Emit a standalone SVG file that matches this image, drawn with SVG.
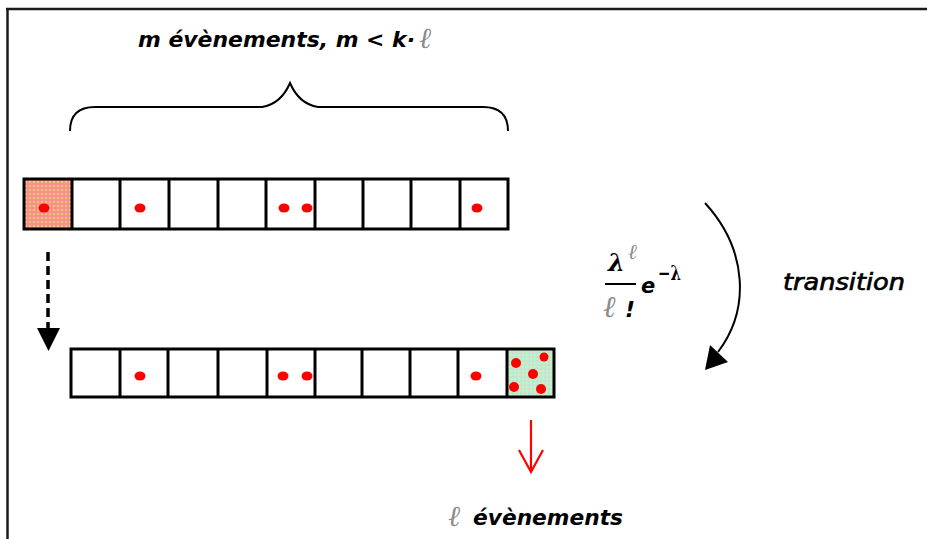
<svg xmlns="http://www.w3.org/2000/svg" width="927" height="539" viewBox="0 0 927 539">
<style>
.cell{fill:none;stroke:#000;stroke-width:3}
.div{stroke:#000;stroke-width:3}
.dot{fill:#f00}
.t{font-family:"DejaVu Sans",sans-serif;font-style:oblique;font-weight:bold;fill:#000}
.ell{font-family:"DejaVu Serif",serif;font-style:italic;fill:#8a8a8a}
.ln{fill:none;stroke:#000;stroke-width:2}
</style>
<defs>
<pattern id="pk" width="4" height="4" patternUnits="userSpaceOnUse">
<rect width="4" height="4" fill="#f5938a"/>
<rect x="1" y="1" width="2" height="2" fill="#f6c27c"/>
</pattern>
<pattern id="gr" width="4" height="4" patternUnits="userSpaceOnUse">
<rect width="4" height="4" fill="#b6f3c4"/>
<rect x="0" y="0" width="2" height="2" fill="#d9d3dc"/>
<rect x="2" y="2" width="2" height="2" fill="#c8efc8"/>
</pattern>
</defs>
<rect width="927" height="539" fill="#fff"/>
<g id="frame">
<line x1="6" y1="9" x2="927" y2="9" stroke="#1a1a1a" stroke-width="2.5"/>
<line x1="7.5" y1="8" x2="7.5" y2="539" stroke="#1a1a1a" stroke-width="2.5"/>
</g>
<g id="title">
<text class="t" x="138" y="47" font-size="22" textLength="277" lengthAdjust="spacingAndGlyphs">m évènements, m &lt; k·</text>
<text class="ell" x="419" y="48" font-size="29">ℓ</text>
</g>
<g id="brace">
<path class="ln" d="M70,131 Q70,107 95,107 L262,107 Q281,104 290,83 Q299,104 318,107 L483,107 Q508,107 508,131"/>
</g>
<g id="row-top">
<rect x="24" y="179" width="48" height="50" fill="url(#pk)"/>
<rect class="cell" x="24" y="179" width="484" height="50"/>
<line class="div" x1="72" y1="179" x2="72" y2="229"/>
<line class="div" x1="120" y1="179" x2="120" y2="229"/>
<line class="div" x1="169" y1="179" x2="169" y2="229"/>
<line class="div" x1="218" y1="179" x2="218" y2="229"/>
<line class="div" x1="266" y1="179" x2="266" y2="229"/>
<line class="div" x1="315" y1="179" x2="315" y2="229"/>
<line class="div" x1="363" y1="179" x2="363" y2="229"/>
<line class="div" x1="411" y1="179" x2="411" y2="229"/>
<line class="div" x1="460" y1="179" x2="460" y2="229"/>
<ellipse class="dot" cx="44" cy="208" rx="5.5" ry="4.5"/>
<ellipse class="dot" cx="140" cy="208" rx="5.5" ry="4.5"/>
<ellipse class="dot" cx="284" cy="208" rx="5.5" ry="4.5"/>
<ellipse class="dot" cx="307" cy="208" rx="5.5" ry="4.5"/>
<ellipse class="dot" cx="477" cy="208" rx="5.5" ry="4.5"/>
</g>
<g id="row-bottom">
<rect x="507" y="349" width="47" height="48" fill="url(#gr)"/>
<rect class="cell" x="71" y="349" width="483" height="48"/>
<line class="div" x1="120" y1="349" x2="120" y2="397"/>
<line class="div" x1="168" y1="349" x2="168" y2="397"/>
<line class="div" x1="218" y1="349" x2="218" y2="397"/>
<line class="div" x1="267" y1="349" x2="267" y2="397"/>
<line class="div" x1="315" y1="349" x2="315" y2="397"/>
<line class="div" x1="362" y1="349" x2="362" y2="397"/>
<line class="div" x1="410" y1="349" x2="410" y2="397"/>
<line class="div" x1="458" y1="349" x2="458" y2="397"/>
<line class="div" x1="507" y1="349" x2="507" y2="397"/>
<ellipse class="dot" cx="140" cy="376" rx="5.5" ry="4.5"/>
<ellipse class="dot" cx="283" cy="376" rx="5.5" ry="4.5"/>
<ellipse class="dot" cx="307" cy="376" rx="5.5" ry="4.5"/>
<ellipse class="dot" cx="476" cy="376" rx="5.5" ry="4.5"/>
<circle class="dot" cx="516" cy="363" r="5"/>
<circle class="dot" cx="544" cy="357" r="4.5"/>
<circle class="dot" cx="533" cy="374" r="5"/>
<circle class="dot" cx="514" cy="387" r="5"/>
<circle class="dot" cx="541" cy="389" r="5"/>
</g>
<g id="formula">
<text x="608" y="271" font-family="DejaVu Serif,serif" font-style="italic" font-weight="bold" font-size="24">λ</text>
<text class="ell" x="628" y="259" font-size="21">ℓ</text>
<line x1="605" y1="284" x2="636" y2="284" stroke="#000" stroke-width="2"/>
<text class="ell" x="603" y="317" font-size="30">ℓ</text>
<text x="625" y="317" font-family="DejaVu Sans,sans-serif" font-style="oblique" font-weight="bold" font-size="22">!</text>
<text x="641" y="293" font-family="DejaVu Sans,sans-serif" font-style="oblique" font-weight="bold" font-size="21">e</text>
<text x="658" y="280" font-family="DejaVu Serif,serif" font-weight="bold" font-size="20" textLength="23" lengthAdjust="spacingAndGlyphs">−λ</text>
</g>
<g id="transition-label">
<text x="783" y="290" font-family="DejaVu Sans,sans-serif" font-style="oblique" font-size="23" stroke="#000" stroke-width="0.7" textLength="122" lengthAdjust="spacingAndGlyphs">transition</text>
</g>
<g id="bottom-label">
<text class="ell" x="448" y="526" font-size="29">ℓ</text>
<text class="t" x="473" y="525" font-size="22" textLength="150" lengthAdjust="spacingAndGlyphs">évènements</text>
</g>
<g id="connectors">
<line x1="48" y1="252" x2="48" y2="330" stroke="#000" stroke-width="3.5" stroke-dasharray="9 5"/>
<polygon points="37,328 60,328 48.5,351" fill="#000"/>
<path class="ln" d="M705,203 C748,250 750,310 718,352"/>
<polygon points="705,370 710,345 728,362" fill="#000"/>
<line x1="531" y1="420" x2="531" y2="471" stroke="#f00" stroke-width="2.2"/>
<polyline points="519,450 531,472 543,450" fill="none" stroke="#f00" stroke-width="2.2"/>
</g>
</svg>
